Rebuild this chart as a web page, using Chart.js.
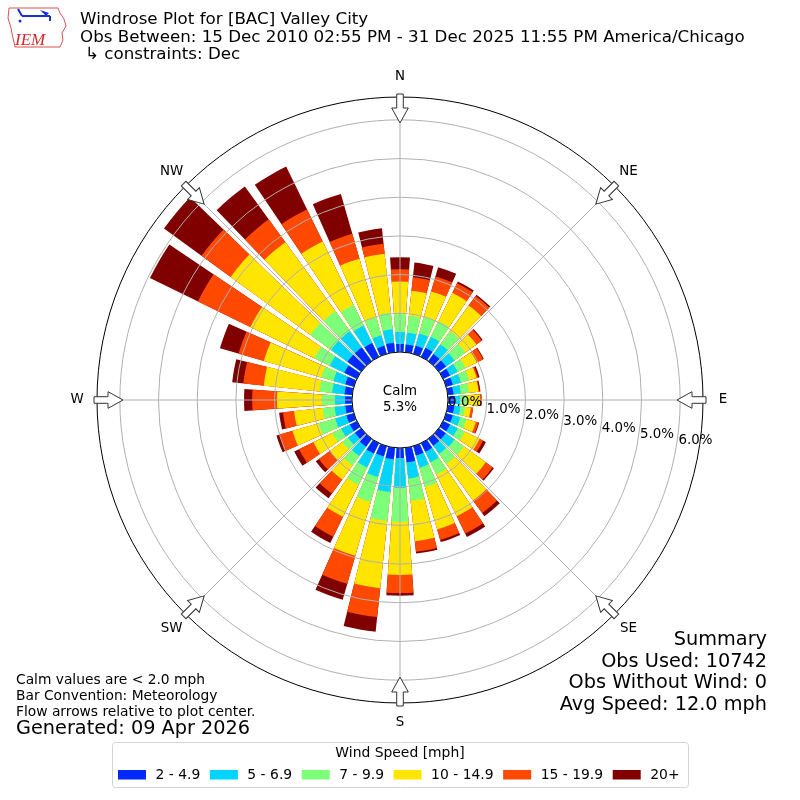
<!DOCTYPE html>
<html>
<head>
<meta charset="utf-8">
<title>Windrose Plot for [BAC] Valley City</title>
<script src="https://cdn.jsdelivr.net/npm/chart.js@4.4.1/dist/chart.umd.min.js"></script>
<style>
  html, body { margin: 0; padding: 0; background: #fff; }
</style>
</head>
<body>
<canvas id="rose" width="800" height="800"></canvas>
<script>
// wind direction bins (degrees, meteorological, bar centre)
const directions = [0, 10, 20, 30, 40, 50, 60, 70, 80, 90, 100, 110, 120, 130, 140, 150, 160, 170,
  180, 190, 200, 210, 220, 230, 240, 250, 260, 270, 280, 290, 300, 310, 320, 330, 340, 350];

const speedBins = ["2 - 4.9", "5 - 6.9", "7 - 9.9", "10 - 14.9", "15 - 19.9", "20+"];
const binColors = ["#0028ff", "#00d4ff", "#7cff79", "#ffe500", "#ff4800", "#800000"];

// percent of observations per direction, one array per speed bin
const bin2to5 = [0.21, 0.20, 0.22, 0.26, 0.23, 0.23, 0.20, 0.18, 0.15, 0.18, 0.17, 0.18, 0.20, 0.22, 0.22, 0.25, 0.25, 0.38,
  0.26, 0.30, 0.27, 0.30, 0.25, 0.20, 0.20, 0.20, 0.18, 0.18, 0.20, 0.23, 0.36, 0.44, 0.44, 0.40, 0.22, 0.25];
const bin5to7 = [0.31, 0.31, 0.33, 0.32, 0.31, 0.27, 0.22, 0.22, 0.19, 0.13, 0.16, 0.20, 0.22, 0.28, 0.26, 0.30, 0.33, 0.42,
  0.77, 0.85, 0.56, 0.40, 0.30, 0.22, 0.25, 0.30, 0.28, 0.26, 0.32, 0.32, 0.42, 0.52, 0.52, 0.50, 0.28, 0.35];
const bin7to10 = [0.46, 0.44, 0.45, 0.45, 0.42, 0.35, 0.23, 0.22, 0.21, 0.17, 0.12, 0.17, 0.20, 0.30, 0.32, 0.35, 0.52, 0.58,
  0.88, 0.75, 0.67, 0.50, 0.30, 0.18, 0.25, 0.45, 0.31, 0.34, 0.33, 0.32, 0.44, 0.66, 0.64, 0.60, 0.48, 0.43];
const bin10to15 = [0.84, 0.65, 0.68, 0.81, 0.82, 0.35, 0.32, 0.20, 0.25, 0.35, 0.15, 0.25, 0.43, 0.70, 1.17, 1.20, 1.14, 1.05,
  1.37, 1.75, 1.45, 0.92, 0.45, 0.40, 0.55, 0.70, 0.74, 1.16, 1.45, 1.55, 1.84, 2.55, 2.20, 1.82, 1.58, 1.53];
const bin15to20 = [0.32, 0.35, 0.40, 0.28, 0.30, 0.17, 0.18, 0.04, 0.02, 0.03, 0.06, 0.07, 0.10, 0.22, 0.40, 0.50, 0.28, 0.27,
  0.47, 0.75, 0.75, 0.57, 0.45, 0.35, 0.41, 0.35, 0.29, 0.64, 0.53, 0.68, 1.51, 0.93, 0.73, 0.92, 0.67, 0.26];
const bin20up = [0.31, 0.38, 0.25, 0.05, 0.04, 0.03, 0.02, 0.04, 0.03, 0.01, 0.00, 0.02, 0.08, 0.04, 0.10, 0.10, 0.06, 0.05,
  0.07, 0.38, 0.43, 0.18, 0.15, 0.10, 0.14, 0.08, 0.10, 0.21, 0.29, 0.50, 1.38, 1.20, 1.05, 1.23, 1.07, 0.40];

const radialTicks = [0, 1, 2, 3, 4, 5, 6];
const compassLabels = ["N", "NE", "E", "SE", "S", "SW", "W", "NW"];
const calmPercent = 5.3;

const titleLines = [
  "Windrose Plot for [BAC] Valley City",
  "Obs Between: 15 Dec 2010 02:55 PM - 31 Dec 2025 11:55 PM America/Chicago",
  "\u21b3 constraints: Dec"
];
const footLines = ["Calm values are < 2.0 mph", "Bar Convention: Meteorology", "Flow arrows relative to plot center."];
const generatedText = "Generated: 09 Apr 2026";
const summaryLines = ["Summary", "Obs Used: 10742", "Obs Without Wind: 0", "Avg Speed: 12.0 mph"];

const FONT = '"DejaVu Sans", sans-serif';
const BAR_DEG = 8;   // angular width of a bar
const GAP_DEG = 2;   // white gap between bars

// stacked bars are drawn as overlapping polar arcs: each dataset holds the
// running total up to its speed bin, smallest total drawn on top
const binSeries = [bin2to5, bin5to7, bin7to10, bin10to15, bin15to20, bin20up];
const slotLabels = [];
directions.forEach((d) => { slotLabels.push(d + "\u00b0"); slotLabels.push(""); });

const running = directions.map(() => 0);
const datasets = binSeries.map((series, k) => {
  const data = [];
  series.forEach((v, i) => {
    running[i] += v;
    data.push(+running[i].toFixed(3));
    data.push(0);
  });
  return {
    label: speedBins[k],
    data,
    backgroundColor: (ctx) => (ctx.dataIndex % 2 ? "rgba(0,0,0,0)" : binColors[k]),
    borderWidth: 0,
    angle: (ctx) => (ctx.dataIndex % 2 ? GAP_DEG : BAR_DEG)
  };
});

function polar(s, deg, r) {
  const a = deg * Math.PI / 180;
  return [s.xCenter + r * Math.sin(a), s.yCenter - r * Math.cos(a)];
}

function drawLogo(ctx) {
  ctx.save();
  ctx.strokeStyle = "#d9534f";
  ctx.lineWidth = 1;
  ctx.beginPath();
  ctx.moveTo(9, 8); ctx.lineTo(58, 8); ctx.lineTo(60, 13); ctx.lineTo(64, 19);
  ctx.lineTo(66, 26); ctx.lineTo(62, 33); ctx.lineTo(63, 40); ctx.lineTo(60, 47);
  ctx.lineTo(15, 47); ctx.lineTo(13, 38); ctx.lineTo(11, 28); ctx.lineTo(8, 18); ctx.closePath();
  ctx.stroke();
  ctx.strokeStyle = "#1a2fd6";
  ctx.fillStyle = "#1a2fd6";
  ctx.lineWidth = 2;
  ctx.beginPath();
  ctx.moveTo(22, 16); ctx.lineTo(50, 16);
  ctx.moveTo(18, 9); ctx.lineTo(22, 16);
  ctx.moveTo(50, 16); ctx.lineTo(50, 21);
  ctx.stroke();
  ctx.beginPath();
  ctx.moveTo(40, 10); ctx.lineTo(49, 13); ctx.lineTo(46, 16); ctx.closePath();
  ctx.fill();
  ctx.beginPath(); ctx.arc(20, 21, 1.5, 0, Math.PI * 2); ctx.fill();
  ctx.fillStyle = "#d62728";
  ctx.font = 'italic 17px "Liberation Serif", serif';
  ctx.textBaseline = "alphabetic";
  ctx.textAlign = "left";
  ctx.fillText("IEM", 15, 45);
  ctx.restore();
}

const decor = {
  id: "windroseDecor",
  afterDraw(chart) {
    const ctx = chart.ctx;
    const s = chart.scales.r;
    const r0 = s.getDistanceFromCenterForValue(0);
    const rOut = s.drawingArea;
    ctx.save();

    // direction spokes
    ctx.strokeStyle = "#b0b0b0";
    ctx.lineWidth = 1;
    for (let k = 0; k < 8; k++) {
      const [x1, y1] = polar(s, k * 45, r0);
      const [x2, y2] = polar(s, k * 45, rOut);
      ctx.beginPath(); ctx.moveTo(x1, y1); ctx.lineTo(x2, y2); ctx.stroke();
    }

    // outer frame
    ctx.strokeStyle = "#000";
    ctx.beginPath(); ctx.arc(s.xCenter, s.yCenter, rOut, 0, Math.PI * 2); ctx.stroke();

    // calm circle
    ctx.fillStyle = "#fff";
    ctx.beginPath(); ctx.arc(s.xCenter, s.yCenter, r0, 0, Math.PI * 2); ctx.fill(); ctx.stroke();
    ctx.fillStyle = "#000";
    ctx.textAlign = "center";
    ctx.textBaseline = "middle";
    ctx.font = "13.4px " + FONT;
    ctx.fillText("Calm", s.xCenter, s.yCenter - 8.5);
    ctx.fillText(calmPercent.toFixed(1) + "%", s.xCenter, s.yCenter + 7.5);

    // radial tick labels
    ctx.textAlign = "left";
    radialTicks.forEach((v) => {
      const d = s.getDistanceFromCenterForValue(v);
      ctx.fillText(v.toFixed(1) + "%", s.xCenter + d * 0.992 + 0.5, s.yCenter + 3 + (d - r0) * 0.163);
    });

    // flow arrows
    ctx.fillStyle = "#fff";
    ctx.strokeStyle = "#333";
    ctx.lineWidth = 1;
    for (let k = 0; k < 8; k++) {
      ctx.save();
      ctx.translate(s.xCenter, s.yCenter);
      ctx.rotate(k * Math.PI / 4);
      ctx.beginPath();
      ctx.moveTo(0, -277); ctx.lineTo(8.3, -292); ctx.lineTo(3.3, -292); ctx.lineTo(3.3, -306);
      ctx.lineTo(-3.3, -306); ctx.lineTo(-3.3, -292); ctx.lineTo(-8.3, -292); ctx.closePath();
      ctx.fill(); ctx.stroke();
      ctx.restore();
    }

    // compass labels
    ctx.fillStyle = "#000";
    ctx.textAlign = "center";
    compassLabels.forEach((lab, k) => {
      const [x, y] = polar(s, k * 45, rOut + 20);
      ctx.fillText(lab, x, y);
    });

    // titles
    ctx.textAlign = "left";
    ctx.font = "16.7px " + FONT;
    titleLines.forEach((t, i) => ctx.fillText(t, i === 2 ? 85 : 80, 20 + i * 17.5));
    drawLogo(ctx);

    // footnotes
    ctx.font = "13.8px " + FONT;
    footLines.forEach((t, i) => ctx.fillText(t, 16, 680 + i * 16));
    ctx.font = "19.3px " + FONT;
    ctx.fillText(generatedText, 16, 729);

    ctx.textAlign = "right";
    ctx.font = "19.3px " + FONT;
    summaryLines.forEach((t, i) => ctx.fillText(t, 767, 640 + i * 21.7));

    // legend
    const lx = 112.5, ly = 742.5, lw = 576, lh = 45;
    ctx.fillStyle = "rgba(255,255,255,0.8)";
    ctx.strokeStyle = "#d4d4d4";
    ctx.beginPath();
    ctx.roundRect(lx, ly, lw, lh, 3);
    ctx.fill(); ctx.stroke();
    ctx.fillStyle = "#000";
    ctx.textAlign = "center";
    ctx.font = "13.9px " + FONT;
    ctx.fillText("Wind Speed [mph]", 400, 753);
    ctx.textAlign = "left";
    let x = 118;
    chart.data.datasets.forEach((ds, k) => {
      ctx.fillStyle = binColors[k];
      ctx.fillRect(x, 770, 28, 9.5);
      ctx.fillStyle = "#000";
      ctx.fillText(ds.label, x + 37.5, 775);
      x += 37.5 + ctx.measureText(ds.label).width + 9.6;
    });

    ctx.restore();
  }
};

new Chart(document.getElementById("rose"), {
  type: "polarArea",
  data: { labels: slotLabels, datasets },
  options: {
    responsive: false,
    animation: false,
    devicePixelRatio: 1,
    layout: { padding: 97 },
    plugins: {
      legend: { display: false },
      tooltip: { enabled: false }
    },
    scales: {
      r: {
        min: -1.24,
        max: 6.59,
        startAngle: -BAR_DEG / 2,
        ticks: { display: false },
        afterBuildTicks: (scale) => { scale.ticks = radialTicks.map((v) => ({ value: v })); },
        grid: { circular: true, color: "#b0b0b0", lineWidth: 1, z: 1 },
        angleLines: { display: false },
        pointLabels: { display: false }
      }
    }
  },
  plugins: [decor]
});
</script>
</body>
</html>
